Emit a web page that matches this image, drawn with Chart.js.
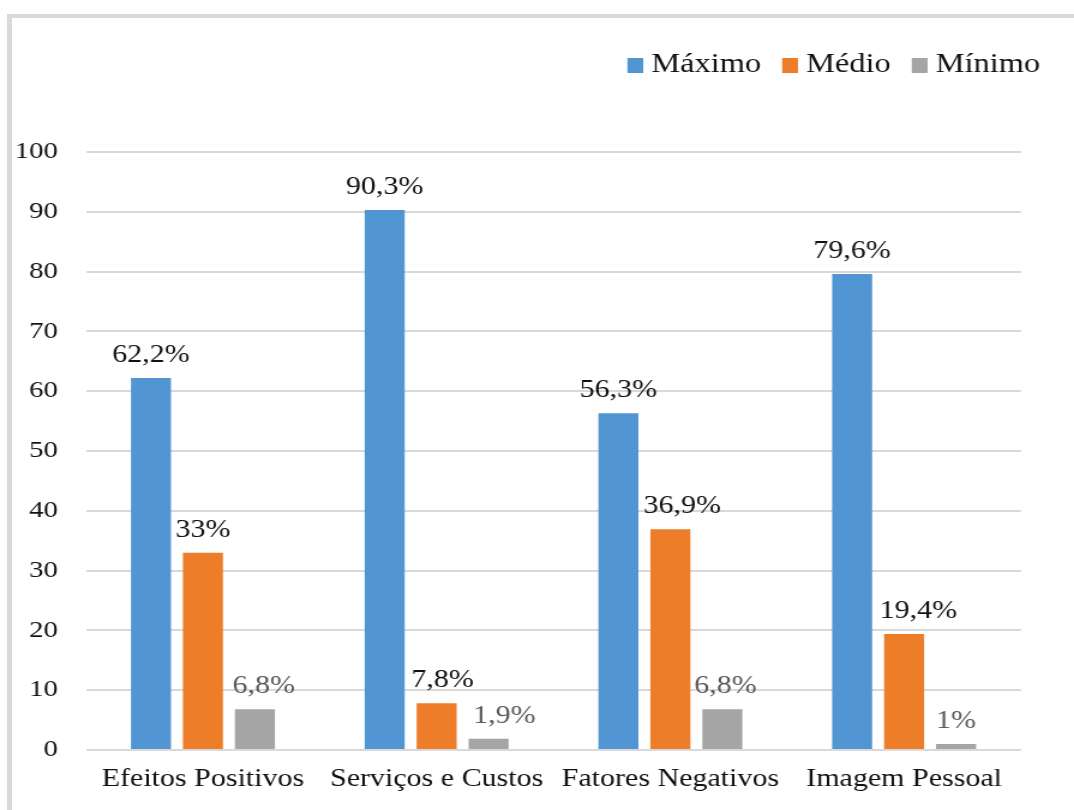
<!DOCTYPE html>
<html lang="pt">
<head>
<meta charset="utf-8">
<title>Máximo, Médio e Mínimo por dimensão</title>
<script src="https://cdn.jsdelivr.net/npm/chart.js@4/dist/chart.umd.min.js"></script>
<style>
  html, body { margin: 0; padding: 0; background: #ffffff; overflow: hidden; }
  body { width: 1074px; height: 810px; position: relative; }
  #frame {
    position: absolute; left: 7px; top: 14px; width: 1200px; height: 900px;
    border-left: 5px solid #d9d9d9; border-top: 4px solid #d9d9d9;
    box-sizing: border-box;
  }
  /* the chart is laid out at 895px wide and widened to the full 1074px */
  #stage {
    position: absolute; left: 0; top: 0; width: 895px; height: 810px;
    transform: scaleX(1.2); transform-origin: 0 0;
  }
  #chart { display: block; }
</style>
</head>
<body>
<div id="frame"></div>
<div id="stage"><canvas id="chart"></canvas></div>
<script>
const categories = ['Efeitos Positivos', 'Serviços e Custos', 'Fatores Negativos', 'Imagem Pessoal'];
const seriesNames = ['Máximo', 'Médio', 'Mínimo'];
const maximo = [62.2, 90.3, 56.3, 79.6];
const medio  = [33, 7.8, 36.9, 19.4];
const minimo = [6.8, 1.9, 6.8, 1];
const yTicks = [0, 10, 20, 30, 40, 50, 60, 70, 80, 90, 100];

const colors = ['#5196D3', '#ED7D28', '#A5A5A5'];
const labelColors = ['#111111', '#111111', '#595959'];
const serif = '"Liberation Serif", "Times New Roman", serif';

const fmt = v => String(v).replace('.', ',') + '%';

// legend swatch: a square sitting in the right half of a wider image,
// so it lies close to its label text
function swatch(color) {
  const c = document.createElement('canvas');
  c.width = 26; c.height = 15;
  const g = c.getContext('2d');
  g.fillStyle = color;
  g.fillRect(13, 0, 13, 15);
  return c;
}
const swatches = colors.map(swatch);

// value labels above each bar; a few are nudged sideways so they clear their neighbours
const barLabels = {
  id: 'barLabels',
  nudge: [[0, 0, 0, 0], [0, 5, 10, 12], [7.5, 13, 2.5, 0]],
  afterDatasetsDraw(chart) {
    const ctx = chart.ctx;
    ctx.save();
    ctx.font = '25px ' + serif;
    ctx.textAlign = 'center';
    ctx.textBaseline = 'alphabetic';
    chart.data.datasets.forEach((ds, i) => {
      const meta = chart.getDatasetMeta(i);
      ctx.fillStyle = labelColors[i];
      meta.data.forEach((bar, j) => {
        ctx.fillText(fmt(ds.data[j]), bar.x + this.nudge[i][j], bar.y - 16);
      });
    });
    ctx.restore();
  }
};

// legend sits in the top-right corner with room left beneath it
const legendPlacement = {
  id: 'legendPlacement',
  beforeInit(chart) {
    const legend = chart.legend;
    const fit = legend.fit;
    legend.fit = function () { fit.call(this); this.height += 63.5; };
  },
  afterLayout(chart) {
    chart.legend.left += 27;
    chart.legend.right += 27;
  }
};

new Chart(document.getElementById('chart'), {
  type: 'bar',
  data: {
    labels: categories,
    datasets: [
      { label: seriesNames[0], data: maximo, backgroundColor: colors[0] },
      { label: seriesNames[1], data: medio,  backgroundColor: colors[1] },
      { label: seriesNames[2], data: minimo, backgroundColor: colors[2] }
    ]
  },
  options: {
    responsive: true,
    maintainAspectRatio: false,
    animation: false,
    devicePixelRatio: 1,
    layout: { padding: { left: 12.7, right: 44.2, top: 40.5, bottom: 16 } },
    datasets: { bar: { categoryPercentage: 0.667, barPercentage: 0.77 } },
    plugins: {
      legend: {
        position: 'top',
        align: 'end',
        labels: {
          usePointStyle: true,
          pointStyleWidth: 13,
          boxHeight: 15,
          padding: 11,
          color: '#111111',
          font: { family: serif, size: 27 },
          generateLabels(chart) {
            const items = Chart.defaults.plugins.legend.labels.generateLabels(chart);
            items.forEach(it => { it.pointStyle = swatches[it.datasetIndex]; });
            return items;
          }
        }
      },
      tooltip: { enabled: false },
      title: { display: false }
    },
    scales: {
      x: {
        grid: { display: false, drawTicks: false },
        border: { display: false },
        ticks: { color: '#111111', padding: 14, font: { family: serif, size: 25 }, maxRotation: 0, autoSkip: false },
        afterFit(scale) { scale.height = 44; }
      },
      y: {
        min: 0, max: 100,
        afterBuildTicks(scale) { scale.ticks = yTicks.map(v => ({ value: v })); },
        grid: { color: '#d9d9d9', lineWidth: 2, drawTicks: false },
        border: { display: false },
        ticks: { color: '#111111', padding: 23.4, font: { family: serif, size: 24 } },
        afterFit(scale) { scale.width = 59; }
      }
    }
  },
  plugins: [barLabels, legendPlacement]
});
</script>
</body>
</html>
